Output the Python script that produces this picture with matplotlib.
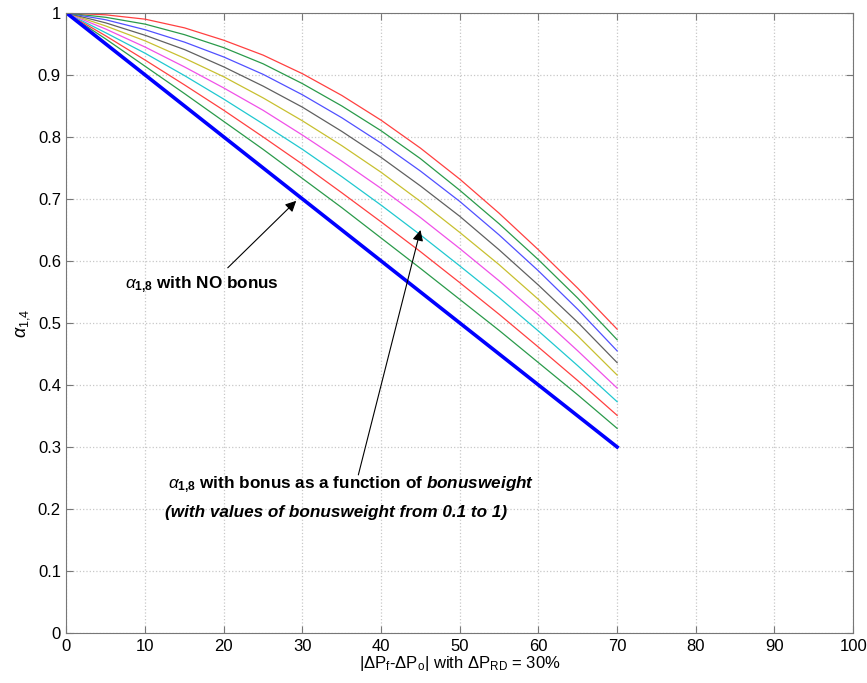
import matplotlib
matplotlib.use("Agg")
import matplotlib.pyplot as plt
import numpy as np

plt.rcParams['font.family'] = ['Liberation Sans', 'DejaVu Sans']
plt.rcParams['mathtext.fontset'] = 'custom'
plt.rcParams['mathtext.rm'] = 'Liberation Sans'
plt.rcParams['mathtext.it'] = 'Liberation Sans:italic'
plt.rcParams['mathtext.bf'] = 'Liberation Sans:bold'
plt.rcParams['mathtext.sf'] = 'Liberation Sans:bold:italic'

# x positions (|dPf - dPo|, %)
x = [0, 5, 10, 15, 20, 25, 30, 35, 40, 45, 50, 55, 60, 65, 70]

# alpha_1,8 with no bonus
no_bonus = [1, .95, .9, .85, .8, .75, .7, .65, .6, .55, .5, .45, .4, .35, .3]

# alpha_1,8 with bonus, bottom curve to top curve
bonus_curves = [
    [1, .958, .914, .870, .825, .780, .733, .686, .637, .588, .538, .488, .436, .384, .330],
    [1, .963, .924, .884, .843, .800, .756, .710, .663, .615, .565, .514, .461, .407, .351],
    [1, .968, .935, .899, .861, .821, .780, .736, .690, .642, .592, .541, .487, .431, .373],
    [1, .974, .945, .913, .879, .843, .803, .761, .717, .670, .620, .568, .513, .455, .395],
    [1, .979, .955, .927, .897, .863, .826, .786, .743, .696, .646, .594, .538, .479, .416],
    [1, .984, .964, .941, .913, .882, .848, .809, .767, .721, .672, .618, .561, .501, .436],
    [1, .989, .973, .953, .929, .901, .868, .831, .790, .745, .696, .642, .584, .522, .455],
    [1, .993, .982, .965, .944, .918, .886, .850, .810, .765, .714, .660, .602, .540, .473],
    [1, .997, .990, .976, .956, .932, .902, .867, .827, .782, .732, .677, .618, .556, .490],
]

colors = ['#2a9a4a', '#ff4040', '#20c8d0', '#f050e8', '#c8c030',
          '#606060', '#5050ff', '#2a9a4a', '#ff4040']

fig = plt.figure(figsize=(8.67, 6.83), dpi=100)
ax = fig.add_axes([0.0767, 0.0732, 0.9073, 0.9078])

for vals, c in zip(bonus_curves, colors):
    ax.plot(x, vals, color=c, lw=0.9)
ax.plot(x, no_bonus, color='#0000ff', lw=2.6)

ax.set_xlim(0, 100)
ax.set_ylim(0, 1)
ax.set_xticks(np.arange(0, 101, 10))
ax.set_yticks(np.arange(0, 1.01, 0.1))
ax.set_yticklabels(['0', '0.1', '0.2', '0.3', '0.4', '0.5', '0.6', '0.7', '0.8', '0.9', '1'])
ax.grid(True, color='#c8c8c8', linestyle=':', lw=0.9)
ax.tick_params(direction='in', top=True, right=True, labelsize=12, length=5, color='#777777', pad=4)
for s in ax.spines.values():
    s.set_color('#777777')

ax.set_xlabel(r'$|\Delta\mathrm{P_f}$-$\Delta\mathrm{P_o}|$ with $\Delta\mathrm{P_{RD}}$ = 30%', fontsize=12, labelpad=0)
ax.set_ylabel(r'$\alpha_{\mathrm{1{,}4}}$', fontsize=13, labelpad=4)

arrow = dict(arrowstyle='-|>', color='black', lw=0.8, shrinkA=0, shrinkB=0, mutation_scale=16)

# no bonus annotation
ax.text(7.5, 0.561, r'$\alpha_{\mathbf{1{,}8}}$ with NO bonus', fontsize=12.3,
        fontweight='bold', va='center', ha='left')
ax.annotate('', xy=(29.2, 0.697), xytext=(20.5, 0.589), arrowprops=arrow)

# bonus annotation
ax.text(59.5, 0.239, r'$\alpha_{\mathbf{1{,}8}}$ with bonus as a function of $\mathsf{bonusweight}$',
        fontsize=12.3, fontweight='bold', va='center', ha='right')
ax.text(56.0, 0.194, '(with values of bonusweight from 0.1 to 1)', fontsize=12.3,
        fontweight='bold', fontstyle='italic', va='center', ha='right')
ax.annotate('', xy=(45.0, 0.65), xytext=(37.1, 0.255), arrowprops=arrow)

fig.savefig('out.png', dpi=100)
